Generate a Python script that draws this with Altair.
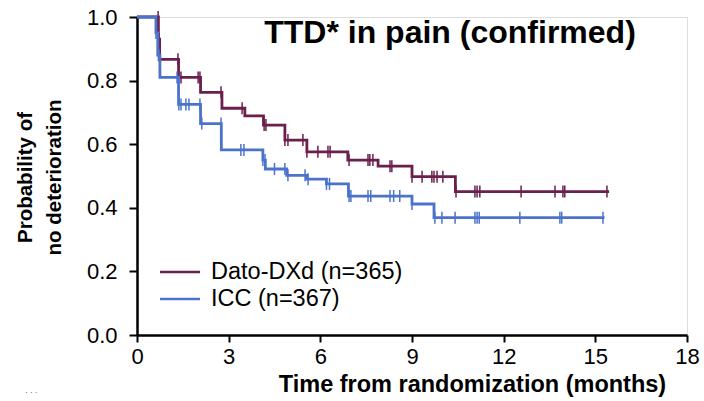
import bisect
import altair as alt
import pandas as pd

# ---- data ----
DATO = "Dato-DXd (n=365)"
ICC = "ICC (n=367)"
arms = [DATO, ICC]
colors = ["#6B1F4D", "#4B73CB"]

dato_time = [0, 0.70, 0.74, 1.36, 2.08, 2.78, 3.53, 4.14, 4.84, 5.56, 6.90, 7.89, 9.00, 10.42, 15.45]
dato_surv = [1.0, 0.93, 0.867, 0.81, 0.763, 0.713, 0.689, 0.66, 0.613, 0.576, 0.55, 0.531, 0.498, 0.451, 0.451]

icc_time = [0, 0.62, 0.68, 0.75, 1.36, 2.08, 2.76, 4.12, 4.20, 4.90, 5.55, 6.20, 6.92, 9.00, 9.72, 15.30]
icc_surv = [1.0, 0.95, 0.88, 0.81, 0.725, 0.665, 0.582, 0.55, 0.522, 0.502, 0.49, 0.475, 0.437, 0.412, 0.369, 0.369]

dato_censor = [0.69, 0.72, 1.34, 1.44, 2.0, 2.06, 2.75, 3.44, 4.16, 4.22, 4.84, 4.94, 5.43, 5.56,
               5.92, 6.25, 6.32, 6.94, 7.56, 7.62, 7.72, 8.28, 8.34, 9.0, 9.33, 9.65, 9.72, 9.82,
               10.01, 10.44, 11.06, 11.13, 11.22, 12.57, 13.68, 13.94, 14.0, 15.38]
icc_censor = [0.62, 0.7, 0.72, 1.31, 1.37, 1.44, 1.6, 1.7, 2.06, 2.12, 2.75, 3.4, 3.5, 4.12, 4.19,
              4.5, 4.84, 4.94, 5.5, 5.6, 6.2, 6.3, 6.94, 7.0, 7.56, 7.65, 8.28, 8.4, 8.6, 9.0,
              9.75, 9.98, 10.41, 11.06, 11.13, 11.2, 12.53, 13.84, 13.9, 15.25]

x_ticks = [0, 3, 6, 9, 12, 15, 18]
y_ticks = [0.0, 0.2, 0.4, 0.6, 0.8, 1.0]
title_text = ["TTD* in pain (confirmed)"]
x_title = "Time from randomization (months)"
y_title = ["Probability of", "no deterioration"]

FONT = "Liberation Sans"


def surv_at(times, survs, t):
    i = bisect.bisect_right(times, t) - 1
    return survs[max(i, 0)]


dato_df = pd.DataFrame({"t": dato_time, "s": dato_surv, "arm": DATO})
icc_df = pd.DataFrame({"t": icc_time, "s": icc_surv, "arm": ICC})
dato_c = pd.DataFrame({"t": dato_censor, "s": [surv_at(dato_time, dato_surv, t) for t in dato_censor]})
icc_c = pd.DataFrame({"t": icc_censor, "s": [surv_at(icc_time, icc_surv, t) for t in icc_censor]})

x_enc = alt.X("t:Q", scale=alt.Scale(domain=[0, 18], nice=False),
              axis=alt.Axis(values=x_ticks, title=x_title, titleX=335, titleY=56,
                            titleBaseline="alphabetic", titleFontSize=23.5, titleFontWeight="bold",
                            labelFontSize=22, labelPadding=4, tickSize=7, tickWidth=2,
                            domainWidth=2.5, labelFlush=False, grid=False,
                            domainColor="black", tickColor="black", labelColor="black",
                            titleColor="black", labelFont=FONT, titleFont=FONT))
y_enc = alt.Y("s:Q", scale=alt.Scale(domain=[0, 1], nice=False),
              axis=alt.Axis(values=y_ticks, format=".1f", title=y_title, titleX=-102, titleY=160,
                            titleBaseline="bottom", titleLineHeight=29, titleFontSize=20.5,
                            titleFontWeight="bold", labelFontSize=22, labelPadding=12,
                            tickSize=8, tickWidth=2, domainWidth=2.5, grid=False,
                            domainColor="black", tickColor="black", labelColor="black",
                            titleColor="black", labelFont=FONT, titleFont=FONT))

color_enc = alt.Color("arm:N", scale=alt.Scale(domain=arms, range=colors), legend=None)

dato_line = alt.Chart(dato_df).mark_line(interpolate="step-after", strokeWidth=2.8).encode(
    x=x_enc, y=y_enc, color=color_enc)
icc_line = alt.Chart(icc_df).mark_line(interpolate="step-after", strokeWidth=2.8).encode(
    x="t:Q", y="s:Q", color=color_enc)
dato_ticks = alt.Chart(dato_c).mark_tick(orient="vertical", size=12, thickness=1.5,
                                         color=colors[0], opacity=1).encode(x="t:Q", y="s:Q")
icc_ticks = alt.Chart(icc_c).mark_tick(orient="vertical", size=12, thickness=1.5,
                                       color=colors[1], opacity=1).encode(x="t:Q", y="s:Q")

# legend drawn as annotation
legend_layers = []
for i, (name, col) in enumerate(zip(arms, colors)):
    ypos = 255 + 27 * i
    legend_layers.append(
        alt.Chart(pd.DataFrame({"arm": [name]})).mark_rule(color=col, strokeWidth=2.5).encode(
            x=alt.value(23), x2=alt.value(63), y=alt.value(ypos)))
    legend_layers.append(
        alt.Chart(pd.DataFrame({"arm": [name]})).mark_text(
            align="left", baseline="middle", fontSize=23.5, font=FONT, color="black").encode(
            text="arm:N", x=alt.value(74), y=alt.value(ypos)))

title = alt.Chart(pd.DataFrame({"txt": title_text})).mark_text(
    align="center", baseline="middle", fontSize=32, fontWeight="bold", font=FONT,
    color="black").encode(text="txt:N", x=alt.value(313), y=alt.value(16))

dots = alt.Chart(pd.DataFrame({"txt": ["·   ·   ·"]})).mark_text(
    align="left", baseline="middle", fontSize=8, font=FONT, color="#333").encode(
    text="txt:N", x=alt.value(-112), y=alt.value(376))

chart = alt.layer(dato_line, dato_ticks, icc_line, icc_ticks, *legend_layers, title, dots).properties(
    width=550, height=318,
    autosize=alt.AutoSizeParams(type="none"),
    padding={"left": 137, "top": 17, "right": 17, "bottom": 66},
).configure_view(stroke=None).configure(background="white")

chart.save("out.html", embed_options={"renderer": "svg", "actions": False})
